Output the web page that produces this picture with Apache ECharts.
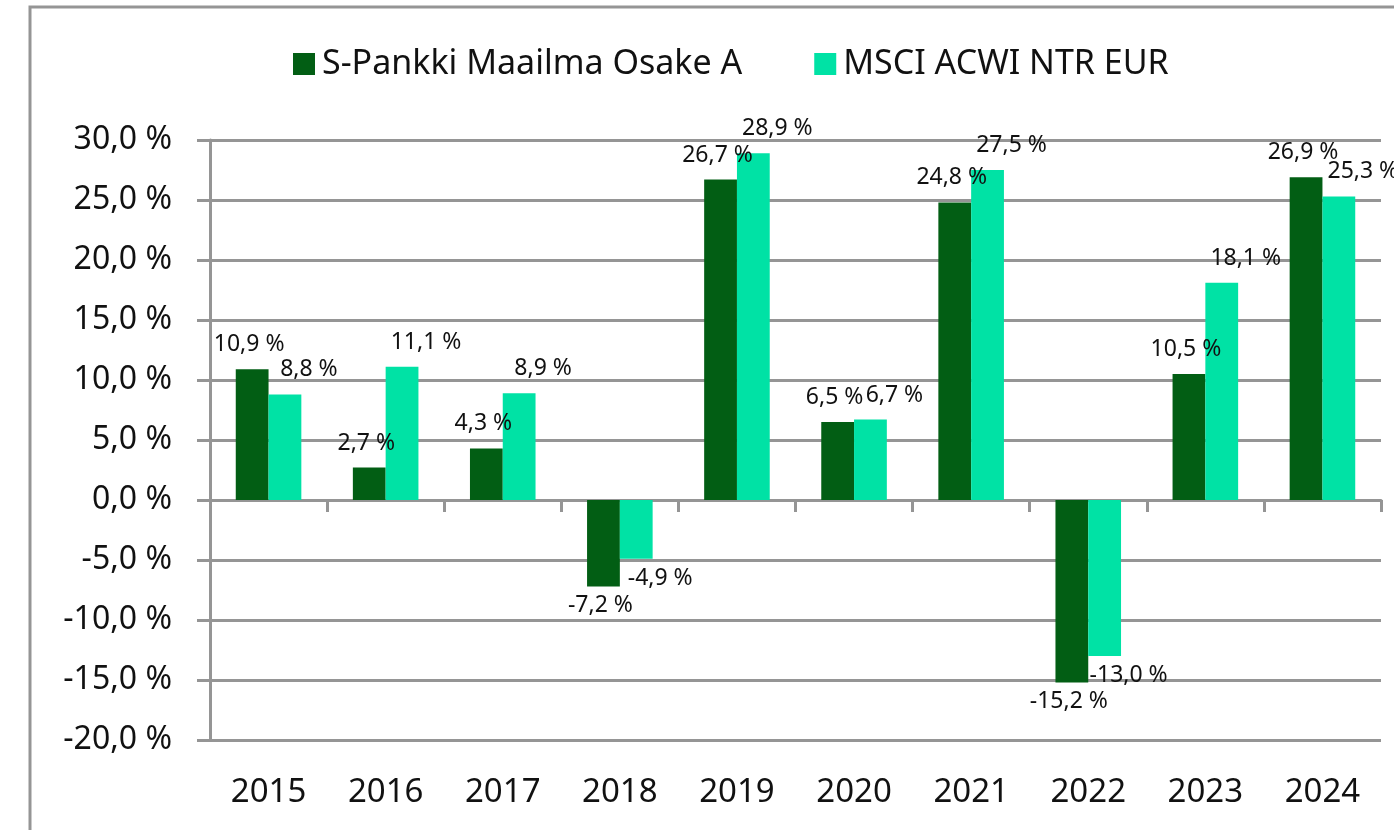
<!DOCTYPE html>
<html><head><meta charset="utf-8">
<script src="https://cdn.jsdelivr.net/npm/echarts@6/dist/echarts.min.js"></script>
<style>html,body{margin:0;padding:0;background:#fff}#c{width:1394px;height:830px}</style>
</head><body><div id="c"></div>
<script>
var categories = ['2015','2016','2017','2018','2019','2020','2021','2022','2023','2024'];
var fundName = 'S-Pankki Maailma Osake A';
var benchName = 'MSCI ACWI NTR EUR';
var fundValues = [10.9, 2.7, 4.3, -7.2, 26.7, 6.5, 24.8, -15.2, 10.5, 26.9];
var benchValues = [8.8, 11.1, 8.9, -4.9, 28.9, 6.7, 27.5, -13.0, 18.1, 25.3];

function fmt(v){ return v.toFixed(1).replace('.', ',') + ' %'; }
var FONT = '"Noto Sans", "Open Sans", sans-serif';
var GRAY = '#959595';

function items(vals, dx){
  return vals.map(function(v){
    return {value: v, label: {position: v < 0 ? 'bottom' : 'top', offset: v < 0 ? [dx, 3] : [dx, -8]}};
  });
}

var chart = echarts.init(document.getElementById('c'));
chart.setOption({
  animation: false,
  backgroundColor: '#fff',
  graphic: [{type: 'rect', shape: {x: 30, y: 7, width: 1420, height: 900},
    style: {fill: 'none', stroke: GRAY, lineWidth: 3}, silent: true}],
  legend: {
    top: 42, left: 288, itemWidth: 22, itemHeight: 22, itemGap: 72,
    icon: 'rect',
    textStyle: {fontFamily: FONT, fontSize: 34, color: '#111', padding: [0, 0, 0, 2]},
    data: [fundName, benchName]
  },
  grid: {left: 210, right: 13, top: 140, bottom: 90, containLabel: false},
  xAxis: {
    type: 'category', data: categories,
    axisLine: {onZero: true, lineStyle: {color: GRAY, width: 3}},
    axisTick: {show: true, length: 12, lineStyle: {color: GRAY, width: 3}},
    axisLabel: {fontFamily: FONT, fontSize: 33, color: '#111', margin: 36},
    position: 'bottom'
  },
  yAxis: {
    type: 'value', min: -20, max: 30, interval: 5,
    axisLine: {show: true, lineStyle: {color: GRAY, width: 3}},
    axisTick: {show: true, length: 13, lineStyle: {color: GRAY, width: 3}},
    splitLine: {show: true, lineStyle: {color: GRAY, width: 3}},
    axisLabel: {fontFamily: FONT, fontSize: 32, color: '#111', margin: 38,
      formatter: function(v){ return fmt(v); }}
  },
  series: [
    {name: fundName, type: 'bar', data: items(fundValues, -3), barGap: '0%', barCategoryGap: '44%',
     itemStyle: {color: '#025E14'},
     label: {show: true, fontFamily: FONT, fontSize: 23, color: '#111', formatter: function(p){ return fmt(p.value); }}},
    {name: benchName, type: 'bar', data: items(benchValues, 24), barGap: '0%', barCategoryGap: '44%',
     itemStyle: {color: '#00E2A5'},
     label: {show: true, fontFamily: FONT, fontSize: 23, color: '#111', formatter: function(p){ return fmt(p.value); }}}
  ]
});
</script></body></html>
